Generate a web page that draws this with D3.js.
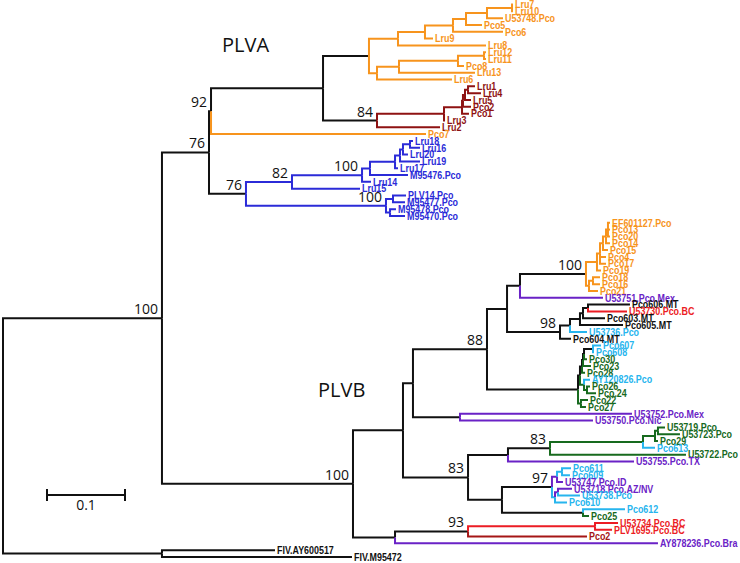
<!DOCTYPE html>
<html><head><meta charset="utf-8">
<script src="https://cdn.jsdelivr.net/npm/d3@7"></script>
<style>
html,body{margin:0;padding:0;background:#fff;}
svg{display:block;}
</style></head>
<body><svg id="chart" width="740" height="563"></svg>
<script>
// ---- DATA: [node id, parent id, distance from root (subst./site), colour group] ----
// ids containing "#" are disambiguated; the label is the part before "#".
const backbone = [
  ["root", null, 0, "k"],
  ["IN", "root", 0.2038, "k"],
  ["PLVA", "IN", 0.2641, "k"],
  ["A1", "PLVA", 0.2667, "k"],
  ["A2", "A1", 0.4103, "k"]
];
const plvaOrange = [
  ["Aor", "A2", 0.4692, "k"],
  ["Aup", "Aor", 0.5064, "o"],
  ["Aup2", "Aup", 0.5410, "o"],
  ["Aup3", "Aup2", 0.5769, "o"],
  ["Aup4", "Aup3", 0.5936, "o"],
  ["Aup5", "Aup4", 0.6205, "o"],
  ["Aup6", "Aup5", 0.6526, "o"],
  ["Lru7", "Aup6", 0.6538, "o"],
  ["Lru10", "Aup6", 0.6538, "o"],
  ["U53748.Pco", "Aup5", 0.6410, "o"],
  ["Pco5", "Aup4", 0.6141, "o"],
  ["Pco6", "Aup3", 0.6410, "o"],
  ["Lru9", "Aup2", 0.5513, "o"],
  ["Lru8", "Aup", 0.6192, "o"],
  ["Alow", "Aor", 0.4795, "o"],
  ["Alow2", "Alow", 0.5077, "o"],
  ["Alow3", "Alow2", 0.5833, "o"],
  ["Alow4", "Alow3", 0.6167, "o"],
  ["Lru12", "Alow4", 0.6192, "o"],
  ["Lru11", "Alow4", 0.6192, "o"],
  ["Pco8", "Alow3", 0.5910, "o"],
  ["Lru13", "Alow2", 0.6051, "o"],
  ["Lru6", "Alow", 0.5756, "o"]
];
const plvaRed = [
  ["Ared", "A2", 0.4795, "k"],
  ["Ar2", "Ared", 0.5654, "m"],
  ["Ar3", "Ar2", 0.5885, "m"],
  ["Ar3a", "Ar3", 0.5897, "m"],
  ["Ar4", "Ar3a", 0.5923, "m"],
  ["Ar5", "Ar4", 0.5962, "m"],
  ["Lru1", "Ar5", 0.6051, "m"],
  ["Lru4", "Ar5", 0.6128, "m"],
  ["Lru5", "Ar4", 0.6000, "m"],
  ["Pco2#A", "Ar3a", 0.6000, "m"],
  ["Pco1", "Ar3", 0.5974, "m"],
  ["Lru3", "Ar2", 0.5667, "m"],
  ["Lru2", "Ared", 0.5603, "m"],
  ["Pco7", "A1", 0.5423, "o"]
];
const plvaBlue = [
  ["B", "PLVA", 0.3115, "k"],
  ["B1", "B", 0.3705, "b"],
  ["B1a", "B1", 0.4603, "b"],
  ["B1b", "B1a", 0.4705, "b"],
  ["B1c2", "B1b", 0.5026, "b"],
  ["B1c", "B1c2", 0.5090, "b"],
  ["B1d", "B1c", 0.5128, "b"],
  ["B1e", "B1d", 0.5218, "b"],
  ["Lru18", "B1e", 0.5256, "b"],
  ["Lru16", "B1e", 0.5346, "b"],
  ["Lru20", "B1d", 0.5192, "b"],
  ["Lru19", "B1c", 0.5346, "b"],
  ["Lru17", "B1c2", 0.5064, "b"],
  ["M95476.Pco", "B1b", 0.5192, "b"],
  ["Lru14", "B1a", 0.4718, "b"],
  ["Lru15", "B1", 0.4577, "b"],
  ["B2", "B", 0.4910, "b"],
  ["B2a", "B2", 0.5000, "b"],
  ["PLV14.Pco", "B2a", 0.5167, "b"],
  ["M95477.Pco", "B2a", 0.5154, "b"],
  ["B2b", "B2", 0.4962, "b"],
  ["M95478.Pco", "B2b", 0.5038, "b"],
  ["M95470.Pco", "B2b", 0.5154, "b"]
];
const plvbUpper = [
  ["PLVB", "IN", 0.4487, "k"],
  ["PB1", "PLVB", 0.5128, "k"],
  ["PB1a", "PB1", 0.5256, "k"],
  ["N88", "PB1a", 0.6205, "k"],
  ["Nu", "N88", 0.6462, "k"],
  ["Nmex", "Nu", 0.6628, "k"],
  ["N100", "Nmex", 0.7474, "k"],
  ["O1", "N100", 0.7615, "o"],
  ["O2", "O1", 0.7654, "o"],
  ["O3", "O2", 0.7692, "o"],
  ["O4", "O3", 0.7731, "o"],
  ["O5", "O4", 0.7756, "o"],
  ["EF601127.Pco", "O5", 0.7782, "o"],
  ["Pco13", "O5", 0.7782, "o"],
  ["Pco20", "O5", 0.7782, "o"],
  ["Pco14", "O4", 0.7782, "o"],
  ["Pco15", "O3", 0.7756, "o"],
  ["Pco4", "O2", 0.7731, "o"],
  ["Pco17", "O2", 0.7731, "o"],
  ["Pco19", "O1", 0.7667, "o"],
  ["Ob", "N100", 0.7513, "o"],
  ["Ob2", "Ob", 0.7564, "o"],
  ["Pco18", "Ob2", 0.7654, "o"],
  ["Pco16", "Ob2", 0.7654, "o"],
  ["Pco21", "Ob", 0.7628, "o"],
  ["U53751.Pco.Mex", "Nmex", 0.7692, "p"],
  ["N98", "Nu", 0.7141, "k"],
  ["Nm", "N98", 0.7269, "k"],
  ["Nm2", "Nm", 0.7397, "k"],
  ["Nm3", "Nm2", 0.7436, "k"],
  ["Nm4", "Nm3", 0.7500, "k"],
  ["Pco606.MT", "Nm4", 0.8038, "k"],
  ["U53730.Pco.BC", "Nm4", 0.8000, "r"],
  ["Pco603.MT", "Nm3", 0.7718, "k"],
  ["Pco605.MT", "Nm2", 0.7949, "k"],
  ["U53736.Pco", "Nm", 0.7487, "c"],
  ["Pco604.MT", "N98", 0.7282, "k"]
];
const plvbGreen = [
  ["Ng2", "N88", 0.7372, "k"],
  ["L4", "Ng2", 0.7397, "k"],
  ["L3", "L4", 0.7423, "k"],
  ["L2", "L3", 0.7436, "k"],
  ["L1", "L2", 0.7449, "k"],
  ["Nbl", "L1", 0.7564, "k"],
  ["Pco607", "Nbl", 0.7667, "c"],
  ["Pco608", "Nbl", 0.7577, "c"],
  ["Pco30", "L1", 0.7487, "g"],
  ["Pco23", "L2", 0.7538, "g"],
  ["Pco28", "L3", 0.7462, "g"],
  ["AYg", "L4", 0.7449, "g"],
  ["AY120826.Pco", "AYg", 0.7526, "c"],
  ["Nh", "AYg", 0.7487, "g"],
  ["Pco26", "Nh", 0.7526, "g"],
  ["Pco.24", "Nh", 0.7603, "g"],
  ["Ngb", "Ng2", 0.7410, "g"],
  ["Pco22", "Ngb", 0.7500, "g"],
  ["Pco27", "Ngb", 0.7474, "g"],
  ["Npu", "PB1a", 0.5859, "k"],
  ["U53752.Pco.Mex", "Npu", 0.8064, "p"],
  ["U53750.Pco.Nic", "Npu", 0.7564, "p"]
];
const plvbLower = [
  ["PB1b", "PB1", 0.5962, "k"],
  ["PB1b1", "PB1b", 0.6474, "k"],
  ["N83u", "PB1b1", 0.7013, "k"],
  ["Nx", "N83u", 0.8205, "g"],
  ["Ng", "Nx", 0.8359, "g"],
  ["Nuu", "Ng", 0.8397, "g"],
  ["U53719.Pco", "Nuu", 0.8487, "g"],
  ["U53723.Pco", "Nuu", 0.8679, "g"],
  ["Pco29", "Ng", 0.8397, "g"],
  ["Pco613", "Nx", 0.8359, "c"],
  ["U53722.Pco", "N83u", 0.8756, "g"],
  ["U53755.Pco.TX", "PB1b1", 0.8090, "p"],
  ["PB1b2", "PB1b", 0.6397, "k"],
  ["N97", "PB1b2", 0.7038, "k"],
  ["Nq", "N97", 0.7103, "p"],
  ["Nq2", "Nq", 0.7167, "c"],
  ["Pco611", "Nq2", 0.7282, "c"],
  ["Pco609", "Nq2", 0.7269, "c"],
  ["U53747.Pco.ID", "Nq", 0.7179, "p"],
  ["Nr", "N97", 0.7077, "c"],
  ["Nr2", "Nr", 0.7115, "p"],
  ["U53718.Pco.AZ/NV", "Nr2", 0.7295, "p"],
  ["U53738.Pco", "Nr2", 0.7397, "c"],
  ["Pco610", "Nr", 0.7231, "c"],
  ["Np", "PB1b2", 0.7436, "k"],
  ["Pco612", "Np", 0.7974, "c"],
  ["Pco25", "Np", 0.7513, "g"],
  ["PB2", "PLVB", 0.5026, "k"],
  ["N93", "PB2", 0.5962, "k"],
  ["Nred", "N93", 0.7590, "r"],
  ["U53734.Pco.BC", "Nred", 0.7885, "r"],
  ["PLV1695.Pco.BC", "Nred", 0.7808, "r"],
  ["Pco2#B", "N93", 0.7487, "d"],
  ["AY878236.Pco.Bra", "PB2", 0.8397, "p"]
];
const outgroup = [
  ["FIV", "root", 0.2038, "k"],
  ["FIV.AY600517", "FIV", 0.3487, "k"],
  ["FIV.M95472", "FIV", 0.4474, "k"]
];
// bootstrap support values at internal nodes
const supportNodes = ["IN","PLVA","A1","Ared","B","B1","B1a","B2","PLVB","N88","N100","N98","PB1b","N83u","N97","N93"];
const supportValues = [100, 76, 92, 84, 76, 82, 100, 100, 100, 88, 100, 98, 83, 83, 97, 93];
const cladeNames = ["PLVA", "PLVB"];
const scaleBarValue = 0.1;

// ---- STYLE ----
const palette = {k:"#111111", o:"#f7941d", m:"#8e1212", b:"#2b2bd8", p:"#6a22c6",
                 r:"#ec1c24", c:"#27b5ee", g:"#176a1e", d:"#a51616"};

// ---- BUILD TREE ----
const rows = [].concat(backbone, plvaOrange, plvaRed, plvaBlue, plvbUpper, plvbGreen, plvbLower, outgroup);
const nodes = new Map();
rows.forEach(([id, parent, dist, col]) => nodes.set(id, {id, parent, dist, col, children: []}));
nodes.forEach(n => { if (n.parent) nodes.get(n.parent).children.push(n); });
const root = nodes.get("root");

// leaf order: pre-order traversal
const leaves = [];
(function walk(n){ if (!n.children.length) leaves.push(n); n.children.forEach(walk); })(root);

const x = d3.scaleLinear().domain([0, 0.1]).range([3, 81]);
const y = d3.scaleLinear().domain([0, leaves.length - 1]).range([4.5, 557]);
leaves.forEach((l, i) => l.y = y(i));
(function setY(n){
  if (n.children.length) {
    n.children.forEach(setY);
    n.y = (n.children[0].y + n.children[n.children.length - 1].y) / 2;
  }
})(root);
nodes.forEach(n => n.x = x(n.dist));

const svg = d3.select("#chart");
const branches = [...nodes.values()].filter(n => n.parent);
// black first so coloured branches sit on top
branches.sort((a, b) => (a.col === "k" ? 0 : 1) - (b.col === "k" ? 0 : 1));
svg.append("g").selectAll("path").data(branches).join("path")
  .attr("d", n => { const p = nodes.get(n.parent); return `M${p.x},${p.y}V${n.y}H${n.x}`; })
  .attr("fill", "none")
  .attr("stroke", n => palette[n.col])
  .attr("stroke-width", 2)
  .attr("stroke-linejoin", "miter");

// tip labels (bold, slightly condensed)
svg.append("g").selectAll("text").data(leaves).join("text")
  .attr("transform", n => `translate(${n.x + 2},${n.y}) scale(0.85,1)`)
  .attr("dy", "0.36em")
  .attr("font-family", "'Liberation Sans', Arial, sans-serif")
  .attr("font-weight", "bold")
  .attr("font-size", 10.5)
  .attr("fill", n => palette[n.col])
  .text(n => n.id.split("#")[0]);

// support values
svg.append("g").selectAll("text").data(supportNodes).join("text")
  .attr("x", id => nodes.get(id).x - 4)
  .attr("y", id => nodes.get(id).y - 4)
  .attr("text-anchor", "end")
  .attr("font-family", "'Open Sans', 'Noto Sans', sans-serif")
  .attr("font-size", 14)
  .attr("fill", "#111")
  .text((id, i) => supportValues[i]);

// clade names
const cladePos = [[222, 52], [318, 397]];
svg.append("g").selectAll("text").data(cladeNames).join("text")
  .attr("x", (d, i) => cladePos[i][0])
  .attr("y", (d, i) => cladePos[i][1])
  .attr("font-family", "'Open Sans', 'Noto Sans', sans-serif")
  .attr("font-size", 20)
  .attr("fill", "#111")
  .text(d => d);

// scale bar
const sbX = 47, sbY = 495, sbW = x(scaleBarValue) - x(0);
const sb = svg.append("g").attr("stroke", "#111").attr("stroke-width", 2);
sb.append("line").attr("x1", sbX).attr("x2", sbX + sbW).attr("y1", sbY).attr("y2", sbY);
sb.append("line").attr("x1", sbX).attr("x2", sbX).attr("y1", sbY - 6).attr("y2", sbY + 6);
sb.append("line").attr("x1", sbX + sbW).attr("x2", sbX + sbW).attr("y1", sbY - 6).attr("y2", sbY + 6);
svg.append("text").attr("x", sbX + sbW / 2).attr("y", sbY + 15)
  .attr("text-anchor", "middle")
  .attr("font-family", "'Open Sans', 'Noto Sans', sans-serif")
  .attr("font-size", 14).attr("fill", "#111")
  .text(scaleBarValue);
</script></body></html>
